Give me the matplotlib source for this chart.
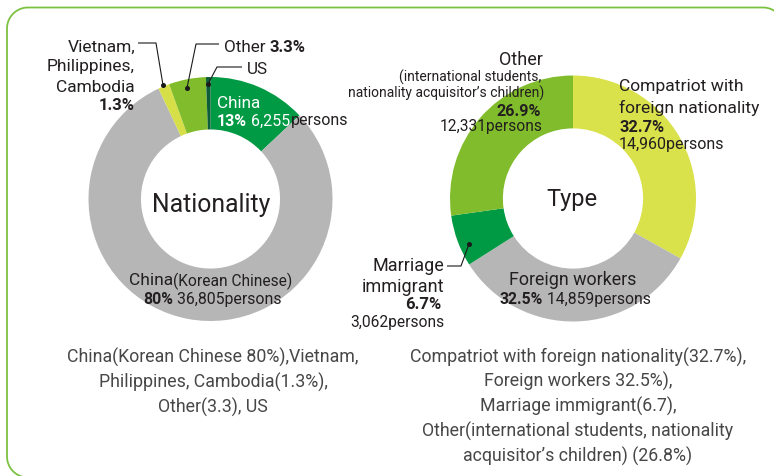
import matplotlib
matplotlib.use("Agg")
import numpy as np
import matplotlib.pyplot as plt

# ---------------- data ----------------
nat_labels = ["China", "China (Korean Chinese)", "Vietnam, Philippines, Cambodia", "Other", "US"]
nat_values = [13.0, 80.0, 1.5, 4.9, 0.6]          # slice shares as drawn
nat_colors = ["#009a44", "#b5b6b5", "#d7df48", "#80bc2b", "#0d5c3a"]

type_labels = ["Compatriot with foreign nationality", "Foreign workers", "Marriage immigrant", "Other"]
type_values = [32.7, 32.5, 6.7, 26.9]
type_persons = ["14,960", "14,859", "3,062", "12,331"]
type_colors = ["#d9e14b", "#b5b6b5", "#009a44", "#80bc2b"]

W, H = 774, 477
DARK = "#231f20"
FONT = "Roboto"
plt.rcParams["font.family"] = [FONT, "DejaVu Sans"]

fig = plt.figure(figsize=(W / 100, H / 100), dpi=100)
fig.patch.set_facecolor("white")

# overlay axes in pixel coordinates
ov = fig.add_axes([0, 0, 1, 1], zorder=5)
ov.set_xlim(0, W)
ov.set_ylim(H, 0)
ov.set_autoscale_on(False)
ov.axis("off")


# rounded green border, open on the (cropped) right and bottom sides
def border_path(x0, y0, x1, y1, r, n=24):
    pts = []
    a = np.radians(np.linspace(0, -90, n))
    pts += list(zip(x1 - r + r * np.cos(a), y0 + r + r * np.sin(a)))
    a = np.radians(np.linspace(270, 180, n))
    pts += list(zip(x0 + r + r * np.cos(a), y0 + r + r * np.sin(a)))
    a = np.radians(np.linspace(180, 90, n))
    pts += list(zip(x0 + r + r * np.cos(a), y1 - r + r * np.sin(a)))
    return zip(*pts)


bx, by = border_path(7, 8.5, 784, 478.5, 21)
ov.plot(list(bx), list(by), color="#7cc242", lw=1.3, clip_on=False)


def pie_ax(cx, cy, r):
    ax = fig.add_axes([(cx - r) / W, 1 - (cy + r) / H, 2 * r / W, 2 * r / H], zorder=1)
    ax.axis("off")
    return ax


ax1 = pie_ax(210.5, 200, 122)
ax1.pie(nat_values, colors=nat_colors, startangle=90, counterclock=False, radius=1,
        wedgeprops=dict(width=0.43, edgecolor="none"))
ax1.set_xlim(-1, 1); ax1.set_ylim(-1, 1)

ax2 = pie_ax(573, 199.5, 123)
ax2.pie(type_values, colors=type_colors, startangle=90, counterclock=False, radius=1,
        wedgeprops=dict(width=0.43, edgecolor="none"))
ax2.set_xlim(-1, 1); ax2.set_ylim(-1, 1)

renderer = fig.canvas.get_renderer()


def rich(x, y, pieces, ha="left", size=11.5):
    texts, widths = [], []
    for s, kw in pieces:
        kw = dict(kw)
        fs = kw.pop("size", size)
        t = ov.text(0, y, s, fontsize=fs, va="center", ha="left",
                    color=kw.pop("color", DARK), **kw)
        widths.append(t.get_window_extent(renderer).width)
        texts.append(t)
    total = sum(widths)
    start = x if ha == "left" else (x - total if ha == "right" else x - total / 2)
    for t, w in zip(texts, widths):
        t.set_position((start, y))
        start += w


def txt(x, y, s, ha="left", size=12.5, **kw):
    kw.setdefault("color", DARK)
    ov.text(x, y, s, ha=ha, va="center", fontsize=size, **kw)


def leader(pts, dot=True):
    xs, ys = zip(*pts)
    ov.plot(xs, ys, color="#1a1a1a", lw=0.8, solid_capstyle="butt")
    if dot:
        ov.plot(xs[-1], ys[-1], "o", color="#1a1a1a", ms=2.6)


B = dict(fontweight="bold")

# ---------- left donut labels ----------
txt(135, 47, "Vietnam,", ha="right")
txt(135, 67, "Philippines,", ha="right")
txt(135, 87, "Cambodia", ha="right")
txt(135, 106, "1.3%", ha="right", size=12, fontweight="bold")
leader([(138, 44), (156, 44), (163, 86)])

rich(224, 48, [("Other ", dict(size=12.3)), ("3.3%", dict(size=12, fontweight="bold"))])
leader([(219, 45), (196, 45), (187, 89)])

txt(247, 70, "US", size=12.3)
leader([(242, 68), (217, 68), (208, 85)])

txt(217, 103, "China", color="white", size=12.3)
rich(217, 121, [("13%", dict(color="white", fontweight="bold")),
                (" 6,255", dict(color="white")), ("persons", {})])

txt(211, 205, "Nationality", ha="center", size=17.8)

rich(211, 281, [("China", dict(size=12.5)), ("(Korean Chinese)", dict(size=11.2))], ha="center")
rich(212, 300, [("80%", B), (" 36,805persons", {})], ha="center", size=11.4)

# ---------- right donut labels ----------
txt(543, 60, "Other", ha="right", size=13)
txt(541, 77, "(international students,", ha="right", size=10)
txt(544, 93, "nationality acquisitor’s children)", ha="right", size=10)
txt(541, 111, "26.9%", ha="right", size=11.6, fontweight="bold")
txt(543, 127, type_persons[3] + "persons", ha="right", size=11.2)

txt(619, 87, "Compatriot with", size=12.6)
txt(619, 108, "foreign nationality", size=12.6)
txt(619, 127, "32.7%", size=11.8, fontweight="bold")
txt(619, 145, type_persons[0] + "persons", size=11.5)

txt(572, 200, "Type", ha="center", size=17)

txt(573, 280, "Foreign workers", ha="center", size=12.9)
rich(575, 300, [("32.5%", B), (" " + type_persons[1] + "persons", {})], ha="center", size=11.3)

txt(444, 266, "Marriage", ha="right", size=13)
txt(444, 287, "immigrant", ha="right", size=13)
txt(441, 305, "6.7%", ha="right", size=12, fontweight="bold")
txt(444, 323, type_persons[2] + "persons", ha="right", size=11.2)
leader([(447, 267), (461, 267), (469, 245)])

# ---------- bottom captions ----------
CAP = dict(color="#474747", fontweight="normal", size=12.8)
left_caption = ["China(Korean Chinese 80%),Vietnam,",
                "Philippines, Cambodia(1.3%),",
                "Other(3.3), US"]
right_caption = ["Compatriot with foreign nationality(32.7%),",
                 "Foreign workers 32.5%),",
                 "Marriage immigrant(6.7),",
                 "Other(international students, nationality",
                 "acquisitor’s children) (26.8%)"]
for i, line in enumerate(left_caption):
    txt(213, 357 + 25 * i, line, ha="center", **CAP)
for i, line in enumerate(right_caption):
    txt(578, 357 + 24.8 * i, line, ha="center", **CAP)

fig.savefig("out.png", dpi=100, facecolor="white")
